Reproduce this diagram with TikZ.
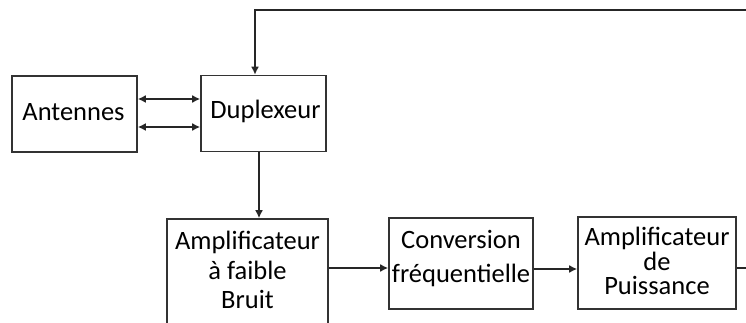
\documentclass[tikz,border=0pt]{standalone}
\usepackage{fontspec}
\setmainfont{Carlito}
\usetikzlibrary{arrows.meta}
\tikzset{
  blockbox/.style={draw=black!80, line width=1.6pt, rectangle, inner sep=0pt},
  txt/.style={align=center, inner sep=0pt, font=\fontsize{26.5}{29.5}\selectfont},
  conn/.style={draw=black!85, line width=1.6pt},
  arr/.style={conn, -{Latex[length=8pt,width=8pt]}},
  darr/.style={conn, {Latex[length=8pt,width=8pt]}-{Latex[length=8pt,width=8pt]}}
}
\begin{document}
\begin{tikzpicture}[x=1pt,y=-1pt]
\clip (0,0) rectangle (746,323);
\fill[white] (0,0) rectangle (746,323);
% boxes
\node[blockbox, minimum width=125pt, minimum height=76pt] (ant) at (74.5,114) {};
\node[txt] (anttxt) at (73.5,112) {Antennes};
\node[blockbox, minimum width=125pt, minimum height=76pt] (dup) at (263.5,113.5) {};
\node[txt] (duptxt) at (265.5,111) {Duplexeur};
\node[blockbox, minimum width=161pt, minimum height=121pt] (lna) at (247.5,279.5) {};
\node[txt, font=\fontsize{26.5}{29.5}\selectfont] (lnatxt) at (247.5,270) {Amplificateur\\à faible\\Bruit};
\node[blockbox, minimum width=144pt, minimum height=91pt] (conv) at (461,263.5) {};
\node[txt, font=\fontsize{26.5}{34}\selectfont] (convtxt) at (461,259) {Conversion\\fréquentielle};
\node[blockbox, minimum width=158pt, minimum height=92pt] (pa) at (657,263) {};
\node[txt, font=\fontsize{26.5}{24.5}\selectfont] (patxt) at (657,261) {Amplificateur\\de\\Puissance};
% free ends
\coordinate (fb) at (750,10);
\coordinate (out) at (750,268);
% connectors
\draw[darr] ([yshift=15pt]ant.east) -- ([yshift=15pt]ant.east -| dup.west);
\draw[darr] ([yshift=-13pt]ant.east) -- ([yshift=-13pt]ant.east -| dup.west);
\draw[arr] (fb) -| ([xshift=-8.5pt]dup.north);
\draw[arr] ([xshift=-4.5pt]dup.south) -- ([xshift=-4.5pt]dup.south |- lna.north);
\draw[arr] ([yshift=11.5pt]lna.east) -- ([yshift=11.5pt]lna.east -| conv.west);
\draw[arr] ([yshift=-5.5pt]conv.east) -- ([yshift=-5.5pt]conv.east -| pa.west);
\draw[conn] (pa.east |- out) -- (out);
\end{tikzpicture}
\end{document}
